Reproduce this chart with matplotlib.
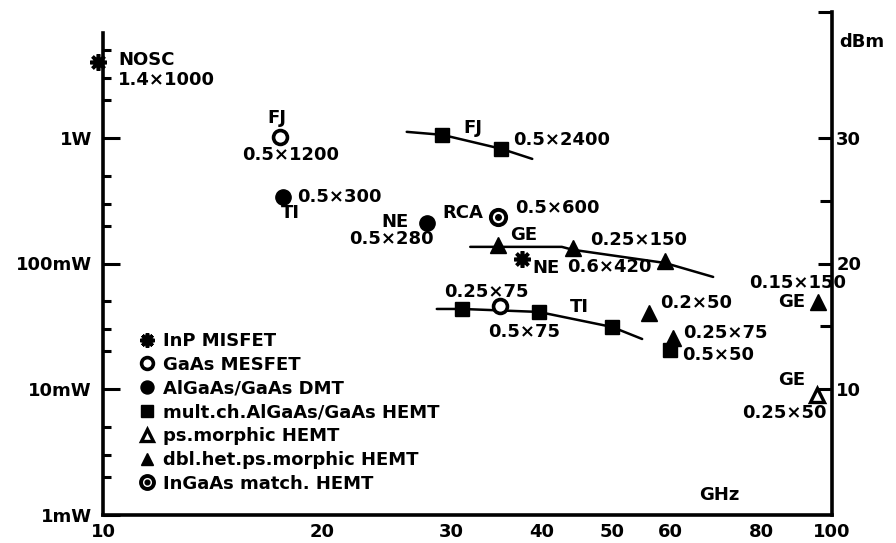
import matplotlib
matplotlib.use("Agg")
import matplotlib.pyplot as plt
from matplotlib.ticker import FixedLocator, FixedFormatter, NullFormatter

plt.rcParams['font.family'] = ['DejaVu Sans']
plt.rcParams['font.weight'] = 'bold'

# ---------------- data (frequency GHz, power mW) ----------------
inp_f = [9.85, 37.6]            # InP MISFET
inp_p = [4000, 109]
mesfet_f = [17.5, 35.0]         # GaAs MESFET
mesfet_p = [1016, 46]
dmt_f = [17.66, 27.8]           # AlGaAs/GaAs DMT
dmt_p = [339, 210]
hemt_f = [29.2, 35.2, 31.1, 39.6, 49.9, 60.0]   # mult.ch. AlGaAs/GaAs HEMT
hemt_p = [1055, 816, 43.5, 41.2, 31.3, 20.5]
psm_f = [95.3]                  # ps.morphic HEMT
psm_p = [9.0]
dh_f = [34.8, 44.1, 59.0, 56.1, 60.5, 95.7]      # dbl.het.ps.morphic HEMT
dh_p = [140.6, 133, 105, 40.5, 25.6, 49.5]
ingaas_f = [34.8]               # InGaAs match. HEMT
ingaas_p = [235]

# trend curves
fj_line_f = [26.1, 29.2, 35.2, 38.8]
fj_line_p = [1114, 1055, 816, 679]
ge_line_f = [31.9, 42.6, 44.1, 59.0, 68.7]
ge_line_p = [135.6, 135.6, 128.6, 101, 78.2]
ti_line_f = [28.7, 31.1, 39.6, 49.9, 54.9]
ti_line_p = [43.5, 43.5, 41.2, 31.3, 25.1]

legend_labels = ["InP MISFET", "GaAs MESFET", "AlGaAs/GaAs DMT",
                 "mult.ch.AlGaAs/GaAs HEMT", "ps.morphic HEMT",
                 "dbl.het.ps.morphic HEMT", "InGaAs match. HEMT"]

x_ticks = [10, 20, 30, 40, 50, 60, 80, 100]
x_ticklabels = ["10", "20", "30", "40", "50", "60", "80", "100"]
y_ticks = [1, 10, 100, 1000]
y_ticklabels = ["1mW", "10mW", "100mW", "1W"]
dbm_ticks = [10, 20, 30, 40]
dbm_ticklabels = ["10", "20", "30", ""]

# point annotations: text, anchor f, anchor p, offset px (dx, dy), ha
notes = [
    ("NOSC", 9.85, 4000, 20, 2, 'left'),
    ("1.4×1000", 9.85, 4000, 20, -18, 'left'),
    ("FJ", 17.5, 1016, -3, 19, 'center'),
    ("0.5×1200", 17.5, 1016, 10, -18, 'center'),
    ("0.5×300", 17.66, 339, 14, 0, 'left'),
    ("TI", 17.66, 339, 7, -16, 'center'),
    ("NE", 27.8, 210, -18, 1, 'right'),
    ("0.5×280", 27.8, 210, -35, -16, 'center'),
    ("RCA", 34.8, 235, -15, 4, 'right'),
    ("0.5×600", 34.8, 235, 17, 9, 'left'),
    ("FJ", 29.2, 1055, 31, 7, 'center'),
    ("0.5×2400", 35.2, 816, 12, 9, 'left'),
    ("GE", 34.8, 140.6, 26, 10, 'center'),
    ("0.25×150", 44.1, 133, 17, 8, 'left'),
    ("NE", 37.6, 109, 10, -9, 'left'),
    ("0.6×420", 37.6, 109, 45, -8, 'left'),
    ("0.25×75", 35.0, 46, -13, 14, 'center'),
    ("0.5×75", 39.6, 41.2, -15, -20, 'center'),
    ("TI", 39.6, 41.2, 41, 5, 'center'),
    ("0.2×50", 56.1, 40.5, 11, 10, 'left'),
    ("0.25×75", 60.5, 25.6, 10, 5, 'left'),
    ("0.5×50", 60.0, 20.5, 12, -5, 'left'),
    ("GE", 95.7, 49.5, -13, 0, 'right'),
    ("0.15×150", 95.7, 49.5, -20, 19, 'center'),
    ("GE", 95.3, 9.0, -12, 15, 'right'),
    ("0.25×50", 95.3, 9.0, -32, -18, 'center'),
]

# ---------------- figure ----------------
W, H = 896, 543
fig = plt.figure(figsize=(W / 100, H / 100), dpi=100)
ax = fig.add_axes([103 / W, (H - 515) / H, (832 - 103) / W, (515 - 12) / H])
ax.set_xscale('log')
ax.set_yscale('log')
ax.set_xlim(10, 100)
ax.set_ylim(1, 10000)

K = 'black'
lw_line = 1.8
for lf, lp in [(fj_line_f, fj_line_p), (ge_line_f, ge_line_p), (ti_line_f, ti_line_p)]:
    ax.plot(lf, lp, color=K, lw=lw_line, solid_capstyle='round', zorder=2)

h_inp, = ax.plot(inp_f, inp_p, ls='none', marker=(8, 2, 0), ms=12, mew=2.6,
                 color=K, clip_on=False, zorder=4)
h_mes, = ax.plot(mesfet_f, mesfet_p, ls='none', marker='o', ms=10, mew=2.6,
                 mfc='white', mec=K, zorder=4)
h_dmt, = ax.plot(dmt_f, dmt_p, ls='none', marker='o', ms=11, color=K, zorder=4)
h_hemt, = ax.plot(hemt_f, hemt_p, ls='none', marker='s', ms=10, color=K, zorder=4)
h_psm, = ax.plot(psm_f, psm_p, ls='none', marker='^', ms=10, mew=2.4,
                 mfc='white', mec=K, zorder=4)
h_dh, = ax.plot(dh_f, dh_p, ls='none', marker='^', ms=11, color=K, zorder=4)
h_ig1, = ax.plot(ingaas_f, ingaas_p, ls='none', marker='o', ms=11, mew=2.8,
                 mfc='white', mec=K, zorder=4)
h_ig2, = ax.plot(ingaas_f, ingaas_p, ls='none', marker='o', ms=4, color=K, zorder=5)

fs = 13
for txt, f, p, dx, dy, ha in notes:
    ax.annotate(txt, xy=(f, p), xytext=(dx, dy), textcoords='offset pixels',
                ha=ha, va='center', fontsize=fs, fontweight='bold', zorder=6,
                annotation_clip=False)

ax.text((719 - 103) / 729, (515 - 495) / 503, "GHz", transform=ax.transAxes,
        fontsize=fs, fontweight='bold', ha='center', va='center')

# legend
leg = ax.legend([h_inp, h_mes, h_dmt, h_hemt, h_psm, h_dh, (h_ig1, h_ig2)],
                legend_labels, loc='upper left',
                bbox_to_anchor=((138 - 103) / 729, (515 - 332) / 503),
                frameon=False, borderpad=0, borderaxespad=0, handlelength=1.0,
                handletextpad=0.4, labelspacing=0.32, markerscale=0.85,
                prop={'size': fs, 'weight': 'bold'})

# spines & ticks (left/bottom)
for s in ['top', 'right']:
    ax.spines[s].set_visible(False)
ax.spines['left'].set_bounds(1, 6800)
ax.spines['left'].set_linewidth(2.6)
ax.spines['bottom'].set_linewidth(2.6)

ax.xaxis.set_major_locator(FixedLocator(x_ticks))
ax.xaxis.set_major_formatter(FixedFormatter(x_ticklabels))
ax.xaxis.set_minor_locator(FixedLocator(x_ticks[1:6]))
ax.xaxis.set_minor_formatter(NullFormatter())
ax.tick_params(axis='x', which='major', length=0, pad=6, labelsize=fs)
ax.tick_params(axis='x', which='minor', direction='in', length=5, width=2.2)

ax.yaxis.set_major_locator(FixedLocator(y_ticks))
ax.yaxis.set_major_formatter(FixedFormatter(y_ticklabels))
ax.yaxis.set_minor_locator(FixedLocator([m * d for d in (1, 10, 100, 1000) for m in (2, 3, 5)]))
ax.yaxis.set_minor_formatter(NullFormatter())
ax.tick_params(axis='y', which='major', direction='in', length=12, width=2.2,
               pad=8, labelsize=fs)
ax.tick_params(axis='y', which='minor', direction='in', length=6, width=2.2)
for lab in ax.get_xticklabels() + ax.get_yticklabels():
    lab.set_fontweight('bold')

# right dBm axis
ax2 = ax.twinx()
ax2.set_ylim(0, 40)
for s in ['top', 'left', 'bottom']:
    ax2.spines[s].set_visible(False)
ax2.spines['right'].set_linewidth(2.6)
ax2.yaxis.set_major_locator(FixedLocator(dbm_ticks))
ax2.yaxis.set_major_formatter(FixedFormatter(dbm_ticklabels))
ax2.yaxis.set_minor_locator(FixedLocator([15, 25]))
ax2.yaxis.set_minor_formatter(NullFormatter())
ax2.tick_params(axis='y', which='major', direction='in', length=10, width=2.2,
                pad=3, labelsize=fs)
ax2.tick_params(axis='y', which='minor', direction='in', length=9, width=2.2)
for lab in ax2.get_yticklabels():
    lab.set_fontweight('bold')
ax2.text(1.01, (515 - 42) / 503, "dBm", transform=ax2.transAxes, fontsize=fs,
         fontweight='bold', ha='left', va='center')

fig.savefig("out.png", dpi=100)
